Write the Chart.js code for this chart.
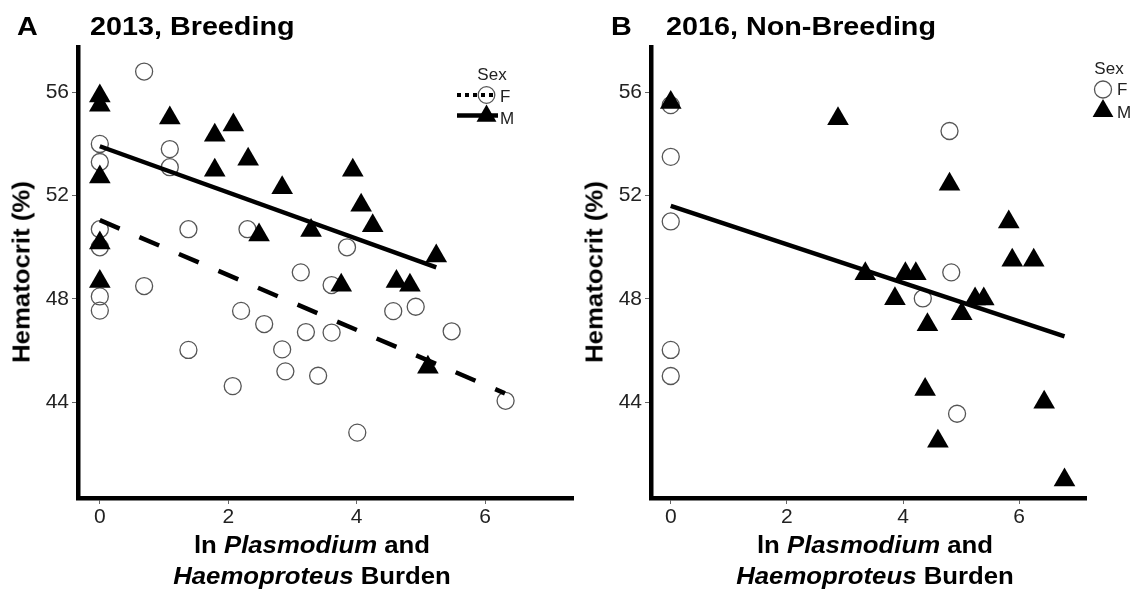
<!DOCTYPE html>
<html>
<head>
<meta charset="utf-8">
<script src="https://cdn.jsdelivr.net/npm/chart.js@4.4.0/dist/chart.umd.min.js"></script>
<style>
  body { margin: 0; background: #fff; }
  #wrap { position: relative; width: 1134px; height: 592px; overflow: hidden; background: #fff;
          font-family: "Liberation Sans", Arial, sans-serif; color: #000; }
  canvas { position: absolute; top: 0; }
  .t { position: absolute; white-space: nowrap; font-weight: bold; }
  .ttl { font-size: 25px; line-height: 25px; top: 14px; transform: scaleX(1.15); transform-origin: 0 0; }
  .yt { font-size: 23px; line-height: 23px; transform: translate(-50%, -50%) rotate(-90deg) scaleX(1.12); }
  .xt { font-size: 23px; line-height: 30.7px; top: 530px; text-align: center; transform: translateX(-50%) scaleX(1.12); }
  .lg { position: absolute; white-space: nowrap; font-size: 17px; line-height: 17px; color: #222;
        transform: translate(-50%, -50%); }
  .lk { position: absolute; white-space: nowrap; font-size: 17px; line-height: 17px; color: #222;
        transform: translateY(-50%); }
</style>
</head>
<body>
<div id="wrap">
  <canvas id="chartA" width="580" height="592" style="left:0"></canvas>
  <canvas id="chartB" width="554" height="592" style="left:580px"></canvas>

  <div class="t ttl" style="left:17px">A</div>
  <div class="t ttl" style="left:90px">2013, Breeding</div>
  <div class="t ttl" style="left:611px">B</div>
  <div class="t ttl" style="left:666px">2016, Non-Breeding</div>

  <div class="t yt" style="left:22px;top:272px">Hematocrit (%)</div>
  <div class="t yt" style="left:595px;top:272px">Hematocrit (%)</div>

  <div class="t xt" style="left:312px">ln <i>Plasmodium</i> and<br><i>Haemoproteus</i> Burden</div>
  <div class="t xt" style="left:875px">ln <i>Plasmodium</i> and<br><i>Haemoproteus</i> Burden</div>

  <div class="lg" style="left:492px;top:74px">Sex</div>
  <div class="lk" style="left:500px;top:96px">F</div>
  <div class="lk" style="left:500px;top:118px">M</div>

  <div class="lg" style="left:1109px;top:68px">Sex</div>
  <div class="lk" style="left:1117px;top:89px">F</div>
  <div class="lk" style="left:1117px;top:112px">M</div>
</div>

<script>
// tick labels shared by both panels
const xTicks = [0, 2, 4, 6];
const yTicks = [44, 48, 52, 56];

// 2013, breeding - females (open circles)
const femaleBurden2013 = [0, 0, 0, 0, 0, 0, 0.69, 0.69, 1.09, 1.09, 1.38, 1.38, 2.07, 2.2, 2.3, 2.56, 2.84, 2.89, 3.13, 3.21, 3.4, 3.61, 3.61, 3.85, 4.01, 4.57, 4.92, 5.48, 6.32];
const femaleHct2013 = [54.0, 53.3, 50.7, 50.0, 48.1, 47.55, 56.8, 48.5, 53.8, 53.1, 50.7, 46.03, 44.63, 47.54, 50.7, 47.03, 46.05, 45.2, 49.03, 46.72, 45.03, 48.54, 46.7, 50.0, 42.83, 47.53, 47.7, 46.75, 44.06];

// 2013, breeding - males (filled triangles)
const maleBurden2013 = [0, 0, 0, 0, 0, 1.09, 1.79, 2.08, 1.79, 2.31, 2.48, 2.84, 3.29, 3.76, 3.94, 4.07, 4.25, 4.62, 4.83, 5.11, 5.24];
const maleHct2013 = [55.85, 55.5, 52.72, 50.17, 48.68, 55.0, 54.34, 54.73, 52.98, 53.41, 50.48, 52.3, 50.65, 48.53, 52.98, 51.63, 50.83, 48.68, 48.53, 45.36, 49.66];

// 2016, non-breeding - females
const femaleBurden2016 = [0, 0, 0, 0, 0, 4.34, 4.8, 4.83, 4.93];
const femaleHct2016 = [55.5, 53.5, 51.0, 46.03, 45.02, 48.02, 54.5, 49.03, 43.56];

// 2016, non-breeding - males
const maleBurden2016 = [0, 2.88, 3.35, 3.86, 4.04, 4.22, 4.38, 4.42, 4.6, 4.8, 5.01, 5.24, 5.39, 5.82, 5.88, 6.25, 6.43, 6.78];
const maleHct2016 = [55.6, 54.97, 48.98, 48.01, 48.98, 48.98, 44.5, 47.0, 42.5, 52.44, 47.43, 48.0, 48.0, 50.98, 49.5, 49.5, 44.0, 41.0];

// fitted lines (end points)
const fitFemale2013X = [0, 6.31];
const fitFemale2013Y = [51.05, 44.35];
const fitMale2013X = [0, 5.24];
const fitMale2013Y = [53.91, 49.22];
const fitAll2016X = [0, 6.78];
const fitAll2016Y = [51.6, 46.55];

const FONT = '"Liberation Sans", Arial, sans-serif';

const pts = (xs, ys) => xs.map((x, i) => ({ x: x, y: ys[i] }));

const circleStyle = {
  pointStyle: 'circle', pointRadius: 8.5, backgroundColor: 'rgba(0,0,0,0)',
  borderColor: '#555', pointBorderWidth: 1.3, borderWidth: 1.3
};
const triStyle = {
  pointStyle: 'triangle', pointRadius: 12.5, backgroundColor: '#000',
  borderColor: '#000', pointBorderWidth: 0, borderWidth: 0
};

function fitLine(xs, ys, dash) {
  return {
    type: 'line', data: pts(xs, ys), borderColor: '#000', borderWidth: 4.5,
    borderDash: dash, pointRadius: 0, fill: false, tension: 0, order: 0, clip: false
  };
}

function makeScales(xMin, xMax, yWidth) {
  return {
    x: {
      type: 'linear', min: xMin, max: xMax,
      afterBuildTicks: s => { s.ticks = xTicks.map(v => ({ value: v })); },
      afterFit: s => { s.height = 94; },
      border: { display: true, color: '#000', width: 4.5 },
      grid: { drawOnChartArea: false, drawTicks: true, tickLength: 6, color: '#666', lineWidth: 1 },
      ticks: { color: '#222', font: { family: FONT, size: 21 }, padding: 1, maxRotation: 0 }
    },
    y: {
      type: 'linear', min: 40.3, max: 57.75,
      afterBuildTicks: s => { s.ticks = yTicks.map(v => ({ value: v })); },
      afterFit: s => { s.width = yWidth; },
      border: { display: true, color: '#000', width: 4.5 },
      grid: { drawOnChartArea: false, drawTicks: true, tickLength: 6, color: '#666', lineWidth: 1 },
      ticks: { color: '#222', font: { family: FONT, size: 21 }, padding: 3 }
    }
  };
}

// legend keys (symbols only, text is html)
const keysA = {
  id: 'keysA',
  afterDraw(chart) {
    const ctx = chart.ctx;
    ctx.save();
    ctx.strokeStyle = '#000';
    ctx.lineWidth = 4;
    ctx.setLineDash([4, 4]);
    ctx.beginPath(); ctx.moveTo(457, 95); ctx.lineTo(494, 95); ctx.stroke();
    ctx.setLineDash([]);
    ctx.lineWidth = 4.5;
    ctx.beginPath(); ctx.moveTo(457, 115.5); ctx.lineTo(498, 115.5); ctx.stroke();
    ctx.fillStyle = 'rgba(0,0,0,0)'; ctx.strokeStyle = '#555'; ctx.lineWidth = 1.3;
    Chart.helpers.drawPoint(ctx, { pointStyle: 'circle', radius: 8.3, borderWidth: 1.3 }, 486.5, 95);
    ctx.fillStyle = '#000';
    Chart.helpers.drawPoint(ctx, { pointStyle: 'triangle', radius: 11.5, borderWidth: 0 }, 486.5, 116);
    ctx.restore();
  }
};

const keysB = {
  id: 'keysB',
  afterDraw(chart) {
    const ctx = chart.ctx;
    ctx.save();
    ctx.fillStyle = 'rgba(0,0,0,0)'; ctx.strokeStyle = '#555'; ctx.lineWidth = 1.3;
    Chart.helpers.drawPoint(ctx, { pointStyle: 'circle', radius: 8.5, borderWidth: 1.3 }, 523, 89.5);
    ctx.fillStyle = '#000';
    Chart.helpers.drawPoint(ctx, { pointStyle: 'triangle', radius: 12, borderWidth: 0 }, 523, 111);
    ctx.restore();
  }
};

const common = {
  responsive: false, animation: false, devicePixelRatio: 1, events: [],
  plugins: { legend: { display: false }, tooltip: { enabled: false } }
};

new Chart(document.getElementById('chartA'), {
  type: 'scatter',
  data: {
    datasets: [
      fitLine(fitFemale2013X, fitFemale2013Y, [21.5, 21.5]),
      fitLine(fitMale2013X, fitMale2013Y, []),
      Object.assign({ label: 'M', data: pts(maleBurden2013, maleHct2013), order: 1, clip: false }, triStyle),
      Object.assign({ label: 'F', data: pts(femaleBurden2013, femaleHct2013), order: 2, clip: false }, circleStyle)
    ]
  },
  options: Object.assign({}, common, {
    layout: { autoPadding: false, padding: { left: 0, top: 47, right: 7, bottom: 0 } },
    scales: makeScales(-0.34, 7.37, 78)
  }),
  plugins: [keysA]
});

new Chart(document.getElementById('chartB'), {
  type: 'scatter',
  data: {
    datasets: [
      fitLine(fitAll2016X, fitAll2016Y, []),
      Object.assign({ label: 'M', data: pts(maleBurden2016, maleHct2016), order: 1, clip: false }, triStyle),
      Object.assign({ label: 'F', data: pts(femaleBurden2016, femaleHct2016), order: 2, clip: false }, circleStyle)
    ]
  },
  options: Object.assign({}, common, {
    layout: { autoPadding: false, padding: { left: 0, top: 47, right: 48, bottom: 0 } },
    scales: makeScales(-0.34, 7.15, 71)
  }),
  plugins: [keysB]
});
</script>
</body>
</html>
